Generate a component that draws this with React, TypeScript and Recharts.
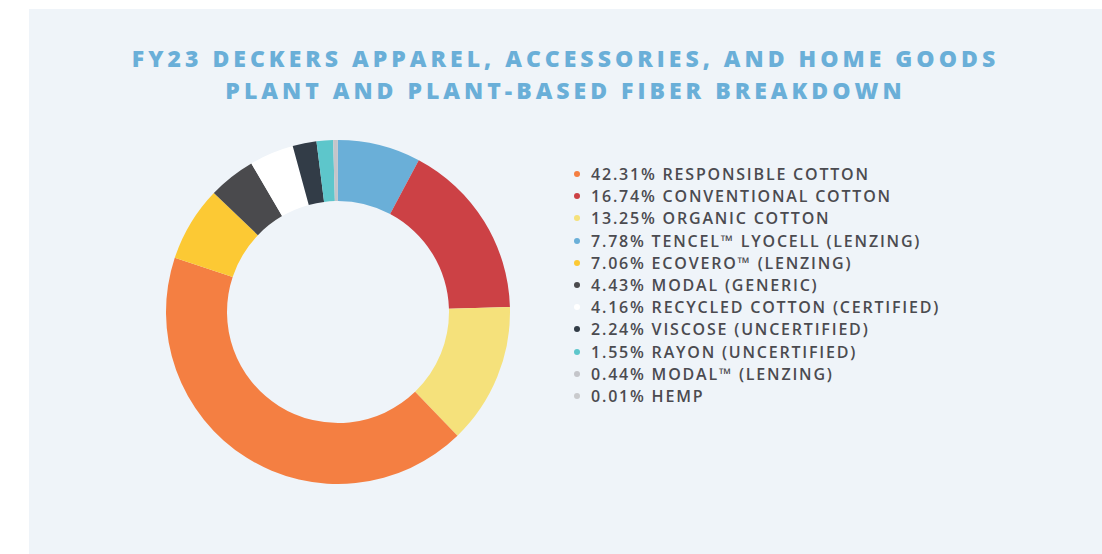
import { PieChart, Pie, Cell, Legend } from "recharts"

const FIBERS = [
  "TENCEL™ LYOCELL (LENZING)",
  "CONVENTIONAL COTTON",
  "ORGANIC COTTON",
  "RESPONSIBLE COTTON",
  "ECOVERO™ (LENZING)",
  "MODAL (GENERIC)",
  "RECYCLED COTTON (CERTIFIED)",
  "VISCOSE (UNCERTIFIED)",
  "RAYON (UNCERTIFIED)",
  "MODAL™ (LENZING)",
  "HEMP",
]
const SHARES = [7.78, 16.74, 13.25, 42.31, 7.06, 4.43, 4.16, 2.24, 1.55, 0.44, 0.01]
const COLORS = [
  "#6AAFD8",
  "#CC4145",
  "#F5E17B",
  "#F47F42",
  "#FCC934",
  "#4A4A4D",
  "#FFFFFF",
  "#323C47",
  "#5DC6CB",
  "#C4C5CA",
  "#C9CACD",
]
// legend reads largest first
const LEGEND_ORDER = [3, 1, 2, 0, 4, 5, 6, 7, 8, 9, 10]

const TITLE = [
  "FY23 DECKERS APPAREL, ACCESSORIES, AND HOME GOODS",
  "PLANT AND PLANT-BASED FIBER BREAKDOWN",
]

const data = FIBERS.map((name, i) => ({ name, value: SHARES[i] }))

function FiberLegend() {
  return (
    <div style={{ display: "flex", flexDirection: "column" }}>
      {LEGEND_ORDER.map((i) => (
        <div
          key={FIBERS[i]}
          style={{ display: "flex", alignItems: "center", height: 22.2 }}
        >
          <span
            style={{
              width: 6,
              height: 6,
              borderRadius: "50%",
              background: COLORS[i],
              marginRight: 11,
              flexShrink: 0,
            }}
          />
          <span
            style={{
              fontFamily: "'Open Sans', sans-serif",
              fontSize: 16,
              fontWeight: 600,
              letterSpacing: 1.8,
              color: "#4B4B50",
              whiteSpace: "nowrap",
            }}
          >
            {SHARES[i].toFixed(2)}% {FIBERS[i]}
          </span>
        </div>
      ))}
    </div>
  )
}

export default function App() {
  return (
    <div
      style={{
        position: "absolute",
        left: 0,
        top: 0,
        width: 1102,
        height: 554,
        background: "#FFFFFF",
        overflow: "hidden",
      }}
    >
      <div
        style={{
          position: "absolute",
          left: 29,
          top: 9,
          width: 1073,
          height: 545,
          background: "#EFF4F9",
        }}
      >
        <div
          style={{
            position: "absolute",
            left: 0,
            top: 33,
            width: 1073,
            textAlign: "center",
            fontFamily: "'Open Sans', sans-serif",
            fontWeight: 800,
            fontSize: 23,
            lineHeight: "32px",
            letterSpacing: 4,
            color: "#6AAFD8",
          }}
        >
          {TITLE.map((t) => (
            <div key={t}>{t}</div>
          ))}
        </div>
        <div style={{ position: "absolute", left: 0, top: 0 }}>
          <PieChart width={1073} height={545}>
            <Pie
              data={data}
              dataKey="value"
              nameKey="name"
              cx={304}
              cy={298}
              innerRadius={111}
              outerRadius={172}
              startAngle={90}
              endAngle={-270}
              stroke="none"
              isAnimationActive={false}
            >
              {data.map((d, i) => (
                <Cell key={d.name} fill={COLORS[i]} />
              ))}
            </Pie>
            <Legend
              content={<FiberLegend />}
              wrapperStyle={{ left: 545, top: 154, width: "auto" }}
            />
          </PieChart>
        </div>
      </div>
    </div>
  )
}
